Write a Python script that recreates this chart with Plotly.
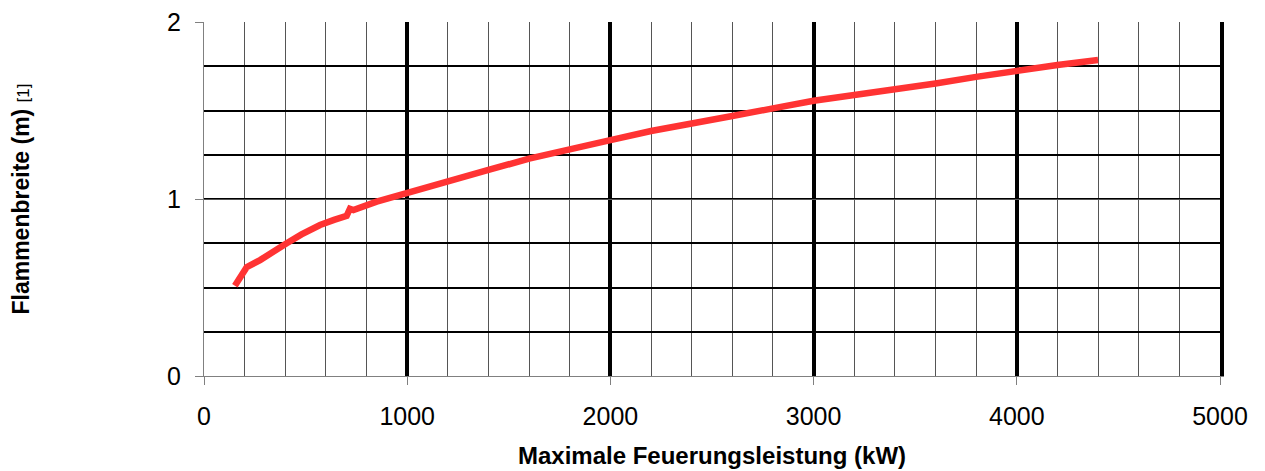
import plotly.graph_objects as go

leistung_kw = [152, 177, 210, 276, 340, 407, 480, 571, 640, 702, 718, 735, 850, 1000, 1200, 1400,
               1600, 1800, 2000, 2200, 2400, 2600, 2800, 3000, 3200, 3400, 3600, 3800, 4000,
               4200, 4400]
flammenbreite_m = [0.51, 0.56, 0.615, 0.655, 0.705, 0.75, 0.80, 0.853, 0.882, 0.905, 0.945, 0.938,
                   0.985, 1.035, 1.105, 1.164, 1.228, 1.285, 1.333, 1.384, 1.431, 1.469, 1.512,
                   1.555, 1.588, 1.616, 1.653, 1.69, 1.725, 1.757, 1.785]

x_ticks = [0, 1000, 2000, 3000, 4000, 5000]
y_ticks = [0, 1, 2]

FONT = "Liberation Sans, Arial, sans-serif"

fig = go.Figure()
fig.add_trace(go.Scatter(x=leistung_kw, y=flammenbreite_m, mode="lines",
                         line=dict(color="#ff3333", width=6.5), showlegend=False))
# invisible trace on secondary axis for right border
fig.add_trace(go.Scatter(x=[None], y=[None], yaxis="y2", showlegend=False, hoverinfo="skip"))

fig.update_layout(
    width=1257, height=463,
    margin=dict(l=196, r=45, t=14, b=95),
    paper_bgcolor="white", plot_bgcolor="white",
    font=dict(family=FONT, color="black"),
    xaxis=dict(range=[0, 5000], tickvals=x_ticks, ticks="outside", ticklen=8,
               tickcolor="#808080", tickfont=dict(size=25), ticklabelstandoff=10,
               ticklabeloverflow="allow",
               showline=True, linecolor="#808080", linewidth=1,
               showgrid=True, gridcolor="black", gridwidth=4,
               minor=dict(dtick=200, showgrid=True, gridcolor="#555555", gridwidth=1, ticks=""),
               zeroline=False, automargin=False,
               title=dict(text="<b>Maximale Feuerungsleistung (kW)</b>", font=dict(size=24), standoff=18)),
    yaxis=dict(range=[0, 2], tickvals=y_ticks, ticks="outside", ticklen=8,
               tickcolor="#808080", tickfont=dict(size=25), ticklabelstandoff=9,
               ticklabeloverflow="allow",
               showline=True, linecolor="#808080", linewidth=1,
               showgrid=True, gridcolor="#555555", gridwidth=1,
               minor=dict(dtick=0.25, showgrid=True, gridcolor="black", gridwidth=2, ticks=""),
               zeroline=False, automargin=False,
               title=dict(text="<b>Flammenbreite (m)</b> <span style='font-size:17px'>[1]</span>",
                          font=dict(size=23), standoff=138)),
    yaxis2=dict(range=[0, 2], overlaying="y", side="right", showline=True, linecolor="black",
                linewidth=4, showgrid=False, showticklabels=False, ticks="", zeroline=False),
)

fig.write_html("out.html")
